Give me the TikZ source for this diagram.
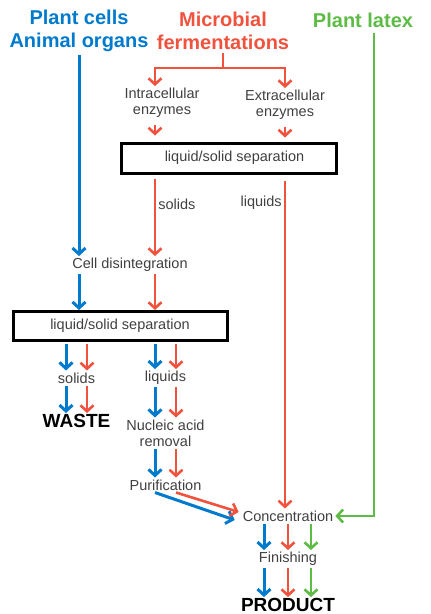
\documentclass[tikz,border=0pt]{standalone}
\usepackage{fontspec}
\setmainfont{Liberation Sans}
\usetikzlibrary{arrows.meta,positioning}
\definecolor{cellblue}{RGB}{0,122,204}
\definecolor{fermred}{RGB}{240,82,62}
\definecolor{latexgreen}{RGB}{93,187,70}
\definecolor{textgray}{RGB}{64,64,64}

\begin{document}
\begin{tikzpicture}[x=1pt,y=-1pt,
   head/.style={font=\fontsize{20}{23}\selectfont\bfseries,align=center,inner sep=1pt},
   txt/.style={text=textgray,font=\fontsize{14.5}{16}\selectfont,align=center,inner sep=2pt},
   big/.style={font=\fontsize{19}{21}\selectfont\bfseries,inner sep=1pt},
   sepbox/.style={draw,line width=3pt,text=textgray,font=\fontsize{14.5}{16}\selectfont},
   tip/.style={-{Straight Barb[length=6pt,width=13pt]}},
   bflow/.style={tip,cellblue,line width=3pt},
   rflow/.style={tip,fermred,line width=2.6pt},
   gflow/.style={tip,latexgreen,line width=2.6pt}]
   \useasboundingbox (0,0) rectangle (431,614);

   \node[head,text=cellblue] (cells) at (79,31) {Plant cells\\Animal organs};
   \node[head,text=fermred] (ferm) at (223,31) {Microbial\\fermentations};
   \node[head,text=latexgreen] (latex) at (363,20) {Plant latex};

   \node[txt] (intra) at (162,103) {Intracellular\\enzymes};
   \node[txt] (extra) at (285,105) {Extracellular\\enzymes};
   \node[sepbox,minimum width=215,minimum height=30] (sep1) at (228.5,158) {\hspace{12pt}liquid/solid separation};
   \node[txt] (cell) at (130,265) {Cell disintegration};
   \node[sepbox,minimum width=214,minimum height=29] (sep2) at (120,326) {liquid/solid separation};
   \node[txt] (solids) at (76.5,378) {solids};
   \node[big] (waste) at (76.5,421) {WASTE};
   \node[txt] (liquids) at (165.5,378) {liquids};
   \node[txt] (nucleic) at (165.5,433) {Nucleic acid\\removal};
   \node[txt] (purif) at (165.5,485) {Purification};
   \node[txt] (conc) at (288,516) {Concentration};
   \node[txt] (finish) at (288,559) {Finishing};
   \node[big] (product) at (288,605) {PRODUCT};

   \coordinate (split) at (223,68);
   \coordinate (rcol) at (155,0);
   \coordinate (gcol) at (374,0);

   % plant cells / animal organs
   \draw[bflow,shorten <=2pt] (cells.south) -- (cells.south |- cell.north);
   \draw[bflow] (cell.south -| cells) -- (sep2.north -| cells);

   % microbial fermentations
   \draw[fermred,line width=2.6pt,shorten <=2pt] (ferm.south) -- (split);
   \draw[rflow] (split) -| (intra.north -| rcol);
   \draw[rflow] (split) -| (extra.north);
   \draw[rflow,shorten <=5pt,shorten >=6pt] (intra.south -| rcol) -- (sep1.north -| rcol);
   \draw[rflow,shorten <=5pt,shorten >=4pt] (extra.south) -- (sep1.north -| extra);
   \draw[rflow,shorten <=4pt] (sep1.south -| rcol) -- (cell.north -| rcol)
      node[txt,right,pos=0.36] {solids};
   \draw[rflow,shorten <=6pt] (sep1.south -| extra) -- (conc.north -| extra)
      node[txt,left,pos=0.085] {liquids};
   \draw[rflow] (cell.south -| rcol) -- (sep2.north -| rcol);

   % plant latex
   \draw[gflow,shorten <=4pt] (latex.south -| gcol) |- (conc.east);

   % second separation
   \draw[bflow,shorten <=2pt] ([xshift=-10.5pt]sep2.south -| solids) -- ([xshift=-10.5pt]solids.north);
   \draw[rflow,shorten <=2pt] ([xshift=10.5pt]sep2.south -| solids) -- ([xshift=10.5pt]solids.north);
   \draw[bflow] ([xshift=-10.5pt]solids.south) -- ([xshift=-10.5pt]waste.north);
   \draw[rflow] ([xshift=10.5pt]solids.south) -- ([xshift=10.5pt]waste.north);
   \draw[bflow,shorten <=2pt] ([xshift=-10.5pt]sep2.south -| liquids) -- ([xshift=-10.5pt]liquids.north);
   \draw[rflow,shorten <=2pt] ([xshift=10.5pt]sep2.south -| liquids) -- ([xshift=10.5pt]liquids.north);
   \draw[bflow] ([xshift=-10.5pt]liquids.south) -- ([xshift=-10.5pt]nucleic.north);
   \draw[rflow] ([xshift=10.5pt]liquids.south) -- ([xshift=10.5pt]nucleic.north);
   \draw[bflow] ([xshift=-10.5pt]nucleic.south) -- ([xshift=-10.5pt]purif.north);
   \draw[rflow] ([xshift=10.5pt]nucleic.south) -- ([xshift=10.5pt]purif.north);
   \draw[bflow] ([xshift=-10.5pt]purif.south) -- ([xshift=-6pt,yshift=-4pt]conc.west);
   \draw[rflow] ([xshift=10.5pt]purif.south) -- ([xshift=-2pt,yshift=4pt]conc.west);

   % concentration to product
   \draw[bflow] ([xshift=-24pt]conc.south) -- ([xshift=-24pt]finish.north);
   \draw[rflow] (conc.south) -- (finish.north);
   \draw[gflow] ([xshift=23pt]conc.south) -- ([xshift=23pt]finish.north);
   \draw[bflow] ([xshift=-24pt]finish.south) -- ([xshift=-24pt]product.north);
   \draw[rflow] (finish.south) -- (product.north);
   \draw[gflow] ([xshift=23pt]finish.south) -- ([xshift=23pt]product.north);
\end{tikzpicture}
\end{document}
